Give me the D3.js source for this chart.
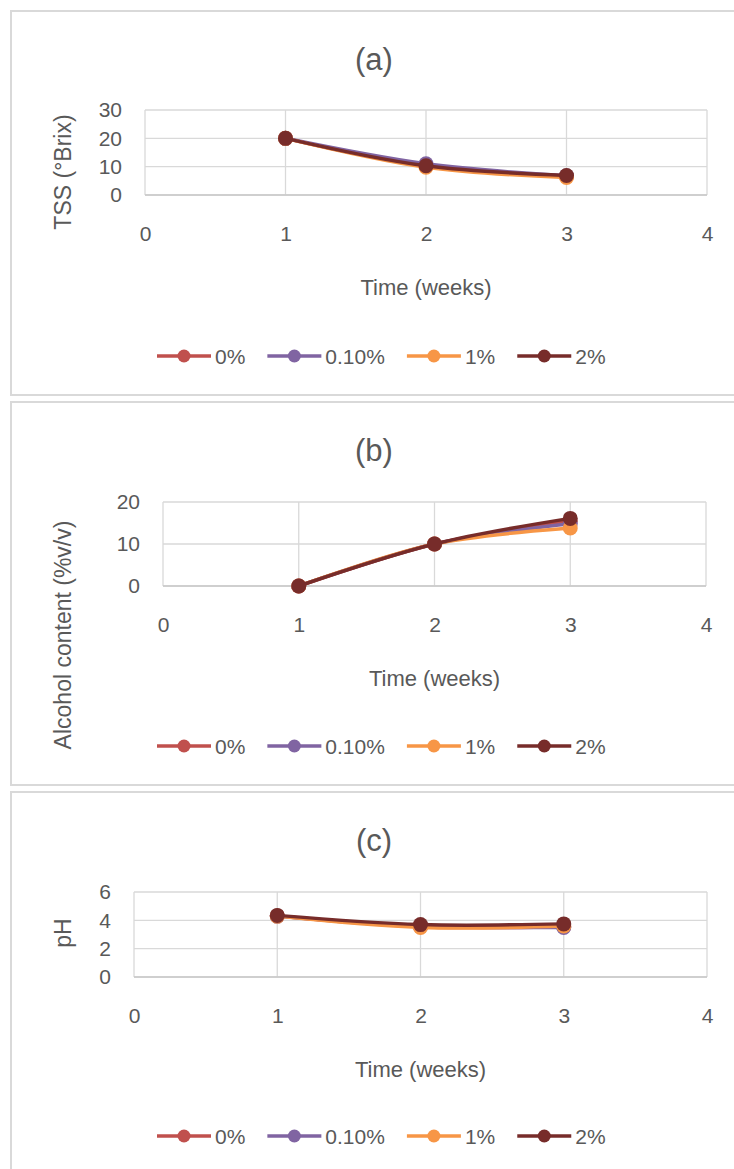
<!DOCTYPE html>
<html>
<head>
<meta charset="utf-8">
<script src="https://cdn.jsdelivr.net/npm/d3@7"></script>
<style>
  body { margin: 0; background: #fff; }
  svg { display: block; font-family: "Liberation Sans", Arial, sans-serif; }
</style>
</head>
<body>
<svg id="chart"></svg>
<script>
const w = 734;
const h = 1169;

// data
const weeks = [1, 2, 3];
const xTicks = [0, 1, 2, 3, 4];
const seriesNames = ['0%', '0.10%', '1%', '2%'];
const seriesColors = ['#C0504D', '#8064A2', '#F79646', '#772C2A'];

// TSS (°Brix), one row per series
const tssValues = [
    [20, 10.2, 6.6],
    [20, 11.0, 6.8],
    [20, 9.8, 6.2],
    [20, 10.3, 6.9]
];
const tssTicks = [0, 10, 20, 30];

// Alcohol content (%v/v)
const alcValues = [
    [0, 10, 15.4],
    [0, 10, 14.8],
    [0, 10, 13.8],
    [0, 10, 16.1]
];
const alcTicks = [0, 10, 20];

// pH
const phValues = [
    [4.3, 3.55, 3.55],
    [4.3, 3.6, 3.5],
    [4.3, 3.5, 3.6],
    [4.35, 3.7, 3.75]
];
const phTicks = [0, 2, 4, 6];

const panels = [
    { title: '(a)', ylabel: 'TSS (°Brix)', values: tssValues, yTicks: tssTicks,
      box: [11, 11, 725, 384], plot: [145, 110, 707, 195], ylabelY: 172 },
    { title: '(b)', ylabel: 'Alcohol content (%v/v)', values: alcValues, yTicks: alcTicks,
      box: [11, 402, 725, 383], plot: [163, 502, 706, 586], ylabelY: 635 },
    { title: '(c)', ylabel: 'pH', values: phValues, yTicks: phTicks,
      box: [11, 792, 725, 390], plot: [134, 892, 707, 977], ylabelY: 933 }
];

const textColor = '#595959';
const gridColor = '#d9d9d9';

const svg = d3.select('#chart')
    .attr('width', w)
    .attr('height', h);

panels.forEach(p => {
    const [bx, by, bw, bh] = p.box;
    const [x0, y0, x1, y1] = p.plot;
    const g = svg.append('g');

    g.append('rect')
        .attr('x', bx).attr('y', by)
        .attr('width', bw).attr('height', bh)
        .attr('fill', '#fff')
        .attr('stroke', gridColor)
        .attr('stroke-width', 2);

    const xScale = d3.scaleLinear()
        .domain([0, 4])
        .range([x0, x1]);
    const yScale = d3.scaleLinear()
        .domain([0, d3.max(p.yTicks)])
        .range([y1, y0]);

    // gridlines
    g.selectAll('.hgrid')
        .data(p.yTicks)
        .enter()
        .append('line')
        .attr('x1', x0).attr('x2', x1)
        .attr('y1', d => yScale(d)).attr('y2', d => yScale(d))
        .attr('stroke', gridColor)
        .attr('stroke-width', 1.3);

    g.selectAll('.vgrid')
        .data(xTicks)
        .enter()
        .append('line')
        .attr('x1', d => xScale(d)).attr('x2', d => xScale(d))
        .attr('y1', y0).attr('y2', y1)
        .attr('stroke', gridColor)
        .attr('stroke-width', 1.3);

    // bottom axis line
    g.append('line')
        .attr('x1', x0).attr('x2', x1)
        .attr('y1', y1).attr('y2', y1)
        .attr('stroke', '#c8c8c8')
        .attr('stroke-width', 1.5);

    // x axis labels
    const xAxis = d3.axisBottom(xScale)
        .tickValues(xTicks)
        .tickFormat(d3.format('d'))
        .tickSize(0)
        .tickPadding(31);
    const xg = g.append('g')
        .attr('transform', `translate(0,${y1})`)
        .call(xAxis);
    xg.select('.domain').remove();
    xg.selectAll('text')
        .attr('fill', textColor)
        .style('font-size', '21px');

    // y axis labels
    const yAxis = d3.axisLeft(yScale)
        .tickValues(p.yTicks)
        .tickFormat(d3.format('d'))
        .tickSize(0)
        .tickPadding(23);
    const yg = g.append('g')
        .attr('transform', `translate(${x0},0)`)
        .call(yAxis);
    yg.select('.domain').remove();
    yg.selectAll('text')
        .attr('fill', textColor)
        .style('font-size', '21px');

    // title
    g.append('text')
        .attr('x', 374).attr('y', by + 48)
        .attr('text-anchor', 'middle')
        .attr('dominant-baseline', 'central')
        .attr('fill', textColor)
        .style('font-size', '31px')
        .text(p.title);

    // axis titles
    g.append('text')
        .attr('x', xScale(2)).attr('y', y1 + 92)
        .attr('text-anchor', 'middle')
        .attr('dominant-baseline', 'central')
        .attr('fill', textColor)
        .style('font-size', '22px')
        .text('Time (weeks)');

    g.append('text')
        .attr('transform', `translate(63,${p.ylabelY}) rotate(-90)`)
        .attr('text-anchor', 'middle')
        .attr('dominant-baseline', 'central')
        .attr('fill', textColor)
        .style('font-size', '23px')
        .text(p.ylabel);

    // series
    const line = d3.line()
        .x((d, i) => xScale(weeks[i]))
        .y(d => yScale(d))
        .curve(d3.curveCatmullRom.alpha(0.5));

    p.values.forEach((vals, si) => {
        g.append('path')
            .datum(vals)
            .attr('d', line)
            .attr('fill', 'none')
            .attr('stroke', seriesColors[si])
            .attr('stroke-width', 3.5)
            .attr('stroke-linecap', 'round');

        g.selectAll(`.pt${si}`)
            .data(vals)
            .enter()
            .append('circle')
            .attr('cx', (d, i) => xScale(weeks[i]))
            .attr('cy', d => yScale(d))
            .attr('r', 7.5)
            .attr('fill', seriesColors[si]);
    });

    // legend
    const legY = by + bh - 39 - (p.title === '(c)' ? 7 : 0);
    let lx = 157;
    seriesNames.forEach((name, si) => {
        g.append('line')
            .attr('x1', lx).attr('x2', lx + 54)
            .attr('y1', legY).attr('y2', legY)
            .attr('stroke', seriesColors[si])
            .attr('stroke-width', 3.5);
        g.append('circle')
            .attr('cx', lx + 27).attr('cy', legY)
            .attr('r', 6.5)
            .attr('fill', seriesColors[si]);
        const t = g.append('text')
            .attr('x', lx + 58).attr('y', legY)
            .attr('dominant-baseline', 'central')
            .attr('fill', textColor)
            .style('font-size', '21px')
            .text(name);
        lx += 58 + t.node().getComputedTextLength() + 22;
    });
});
</script>
</body>
</html>
